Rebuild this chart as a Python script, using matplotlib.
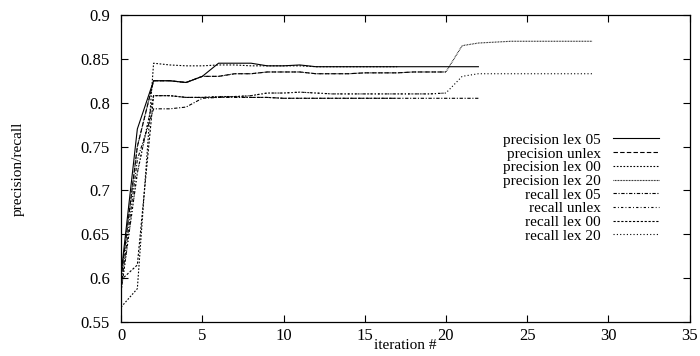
"""Precision / recall per iteration for the different lex settings."""

import matplotlib
matplotlib.use("Agg")
from matplotlib import pyplot as plt

# iterations
iters_lex05 = list(range(23))
iters_lex00 = list(range(18))
iters_unlex = list(range(21))
iters_lex20 = list(range(30))

prec_lex05 = [0.605, 0.77, 0.825, 0.825, 0.823, 0.83, 0.845, 0.845, 0.845,
              0.842, 0.842, 0.843, 0.841, 0.841, 0.841, 0.841, 0.841, 0.841,
              0.841, 0.841, 0.841, 0.841, 0.841]
prec_unlex = [0.60, 0.75, 0.825, 0.825, 0.823, 0.83, 0.83, 0.833, 0.833,
              0.835, 0.835, 0.835, 0.833, 0.833, 0.833, 0.834, 0.834, 0.834,
              0.835, 0.835, 0.835]
prec_lex00 = [0.567, 0.588, 0.845, 0.843, 0.842, 0.842, 0.843, 0.843, 0.842,
              0.842, 0.842, 0.842, 0.841, 0.841, 0.841, 0.841, 0.841, 0.841]
prec_lex20 = prec_unlex + [0.865, 0.868, 0.869, 0.87, 0.87, 0.87, 0.87,
                           0.87, 0.87]

rec_lex05 = [0.59, 0.735, 0.793, 0.793, 0.795, 0.805, 0.806, 0.806, 0.806,
             0.806, 0.805, 0.805, 0.805, 0.805, 0.805, 0.805, 0.805, 0.805,
             0.805, 0.805, 0.805, 0.805, 0.805]
rec_unlex = [0.585, 0.72, 0.808, 0.808, 0.806, 0.806, 0.807, 0.807, 0.808,
             0.811, 0.811, 0.812, 0.811, 0.81, 0.81, 0.81, 0.81, 0.81, 0.81,
             0.81, 0.811]
rec_lex00 = [0.598, 0.615, 0.808, 0.808, 0.806, 0.806, 0.806, 0.807, 0.806,
             0.806, 0.805, 0.805, 0.805, 0.805, 0.805, 0.805, 0.805, 0.805]
rec_lex20 = rec_unlex + [0.83, 0.833, 0.833, 0.833, 0.833, 0.833, 0.833,
                         0.833, 0.833]


def main():
    plt.rcParams["font.family"] = ["Liberation Serif", "DejaVu Serif"]
    plt.rcParams["font.size"] = 11
    fig = plt.figure(figsize=(7.0, 3.56), dpi=100)
    ax = fig.add_axes([0.173, 0.0955, 0.812, 0.8625])

    kw = {"color": "black", "lw": 0.8}
    series = [
        (iters_lex05, prec_lex05, "precision lex 05", "-"),
        (iters_unlex, prec_unlex, "precision unlex", (0, (4, 2))),
        (iters_lex00, prec_lex00, "precision lex 00", (0, (1.5, 1.5))),
        (iters_lex20, prec_lex20, "precision lex 20", (0, (0.7, 0.7))),
        (iters_lex05, rec_lex05, "recall lex 05", (0, (3, 1.5, 1, 1.5))),
        (iters_unlex, rec_unlex, "recall unlex", (0, (2, 2, 0.8, 2))),
        (iters_lex00, rec_lex00, "recall lex 00", (0, (2, 1.5))),
        (iters_lex20, rec_lex20, "recall lex 20", (0, (1, 2))),
    ]
    for x, y, label, ls in series:
        ax.plot(x, y, ls=ls, label=label, **kw)

    ax.set_xlim(0, 35)
    ax.set_ylim(0.55, 0.9)
    ax.set_xticks(range(0, 36, 5))
    ax.set_yticks([0.55, 0.6, 0.65, 0.7, 0.75, 0.8, 0.85, 0.9])
    ax.set_yticklabels(["0.55", "0.6", "0.65", "0.7", "0.75", "0.8",
                        "0.85", "0.9"])
    ax.tick_params(direction="in", length=5, width=0.8, top=True, right=True,
                   labelsize=12)
    ax.tick_params(axis="x", pad=4)
    ax.tick_params(axis="y", pad=8)
    for sp in ax.spines.values():
        sp.set_linewidth(0.9)

    ax.set_xlabel("iteration #", labelpad=-3)
    ax.set_ylabel("precision/recall", labelpad=40)

    ax.legend(loc="upper right", bbox_to_anchor=(0.96, 0.64),
              frameon=False, markerfirst=False, handlelength=3.0,
              handletextpad=0.8, labelspacing=0.0, borderpad=0,
              fontsize=11)
    for t in ax.get_legend().get_texts():
        t.set_ha("right")
    leg = ax.get_legend()
    leg._legend_box.align = "right"

    fig.savefig("out.png", dpi=100)


if __name__ == "__main__":
    main()
